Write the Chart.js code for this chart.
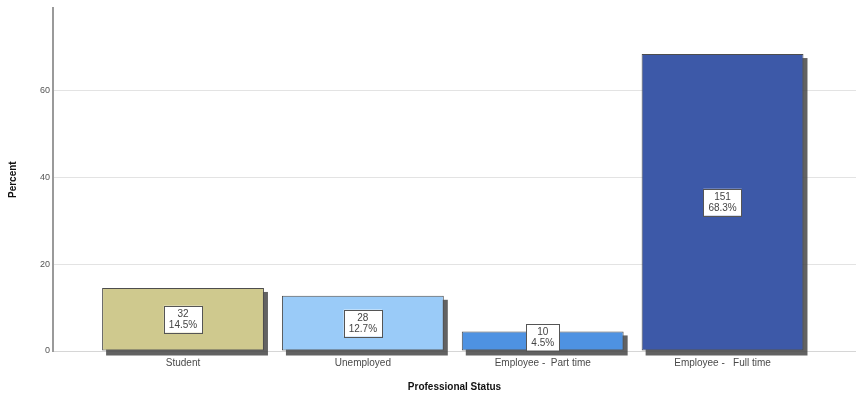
<!DOCTYPE html>
<html>
<head>
<meta charset="utf-8">
<script src="https://cdn.jsdelivr.net/npm/chart.js@4.4.1/dist/chart.umd.min.js"></script>
<style>
  html, body { margin: 0; padding: 0; background: #fff; }
  #wrap { width: 856px; height: 398px; }
</style>
</head>
<body>
<div id="wrap"><canvas id="statusChart" width="856" height="398"></canvas></div>
<script>
const categories = ['Student', 'Unemployed', 'Employee -  Part time', 'Employee -   Full time'];
const counts = [32, 28, 10, 151];
const percents = [14.5, 12.7, 4.5, 68.3];
const barColors = ['#cfc98e', '#9acbf8', '#4e92e2', '#3d59a8'];
const yTicks = [0, 20, 40, 60];

// drop shadow behind each bar, taken from the bar elements
const barShadow = {
    id: 'barShadow',
    beforeDatasetsDraw(chart) {
        const ctx = chart.ctx;
        const meta = chart.getDatasetMeta(0);
        ctx.save();
        ctx.fillStyle = 'rgba(70, 70, 70, 0.85)';
        meta.data.forEach(bar => {
            const w = bar.width;
            ctx.fillRect(bar.x - w / 2 + 4, bar.y + 4, w, bar.base - bar.y + 1);
        });
        ctx.restore();
    }
};

// count / percent boxes in the middle of each bar
const valueBoxes = {
    id: 'valueBoxes',
    afterDatasetsDraw(chart) {
        const ctx = chart.ctx;
        const meta = chart.getDatasetMeta(0);
        ctx.save();
        ctx.font = '10px "Liberation Sans", Arial, sans-serif';
        ctx.textAlign = 'center';
        ctx.textBaseline = 'middle';
        meta.data.forEach((bar, i) => {
            const top = String(counts[i]);
            const bottom = percents[i].toFixed(1) + '%';
            const w = Math.max(ctx.measureText(top).width, ctx.measureText(bottom).width) + 10;
            const h = 27;
            let cy = (bar.y + bar.base) / 2;
            if (cy + h / 2 > bar.base) cy = bar.base - h / 2;
            ctx.fillStyle = '#ffffff';
            ctx.fillRect(bar.x - w / 2, cy - h / 2, w, h);
            ctx.strokeStyle = '#555';
            ctx.lineWidth = 1;
            ctx.strokeRect(Math.round(bar.x - w / 2) + 0.5, Math.round(cy - h / 2) + 0.5, Math.round(w), h);
            ctx.fillStyle = '#444';
            ctx.fillText(top, bar.x, cy - 5);
            ctx.fillText(bottom, bar.x, cy + 6);
        });
        ctx.restore();
    }
};

new Chart(document.getElementById('statusChart'), {
    type: 'bar',
    data: {
        datasets: [{
            data: percents.map((p, i) => ({ x: i, y: p })),
            backgroundColor: barColors,
            borderColor: '#4d4d4d',
            borderWidth: 1,
            borderSkipped: false,
            barPercentage: 0.9,
            categoryPercentage: 1
        }]
    },
    options: {
        responsive: false,
        animation: false,
        layout: { padding: { top: 7, right: 0, bottom: 0, left: 0 } },
        plugins: {
            legend: { display: false },
            tooltip: { enabled: false }
        },
        scales: {
            x: {
                type: 'linear',
                offset: false,
                min: -0.723,
                max: 3.742,
                afterBuildTicks: scale => {
                    scale.ticks = categories.map((c, i) => ({ value: i }));
                },
                afterFit: scale => { scale.height = 47; },
                grid: { display: false, drawTicks: false, offset: false },
                border: { color: '#d6d6d6', width: 1 },
                ticks: {
                    padding: 6,
                    maxRotation: 0,
                    autoSkip: false,
                    color: '#4a4a4a',
                    font: { family: '"Liberation Sans", Arial, sans-serif', size: 10 },
                    callback: value => categories[value]
                },
                title: {
                    display: true,
                    text: 'Professional Status',
                    color: '#111',
                    padding: { top: 0, bottom: 5 },
                    font: { family: '"Liberation Sans", Arial, sans-serif', size: 10, weight: 'bold' }
                }
            },
            y: {
                min: 0,
                max: 78.8,
                afterBuildTicks: scale => {
                    scale.ticks = yTicks.map(v => ({ value: v }));
                },
                afterFit: scale => { scale.width = 53; },
                grid: {
                    drawTicks: false,
                    color: ctx => ctx.tick && ctx.tick.value === 0 ? 'rgba(0,0,0,0)' : '#e3e3e3',
                    lineWidth: 1
                },
                border: { color: '#9a9a9a', width: 2 },
                ticks: {
                    padding: 3,
                    color: '#555',
                    font: { family: '"Liberation Sans", Arial, sans-serif', size: 9 }
                },
                title: {
                    display: true,
                    text: 'Percent',
                    color: '#111',
                    padding: { top: 7, bottom: 0 },
                    font: { family: '"Liberation Sans", Arial, sans-serif', size: 10, weight: 'bold' }
                }
            }
        }
    },
    plugins: [barShadow, valueBoxes]
});
</script>
</body>
</html>
